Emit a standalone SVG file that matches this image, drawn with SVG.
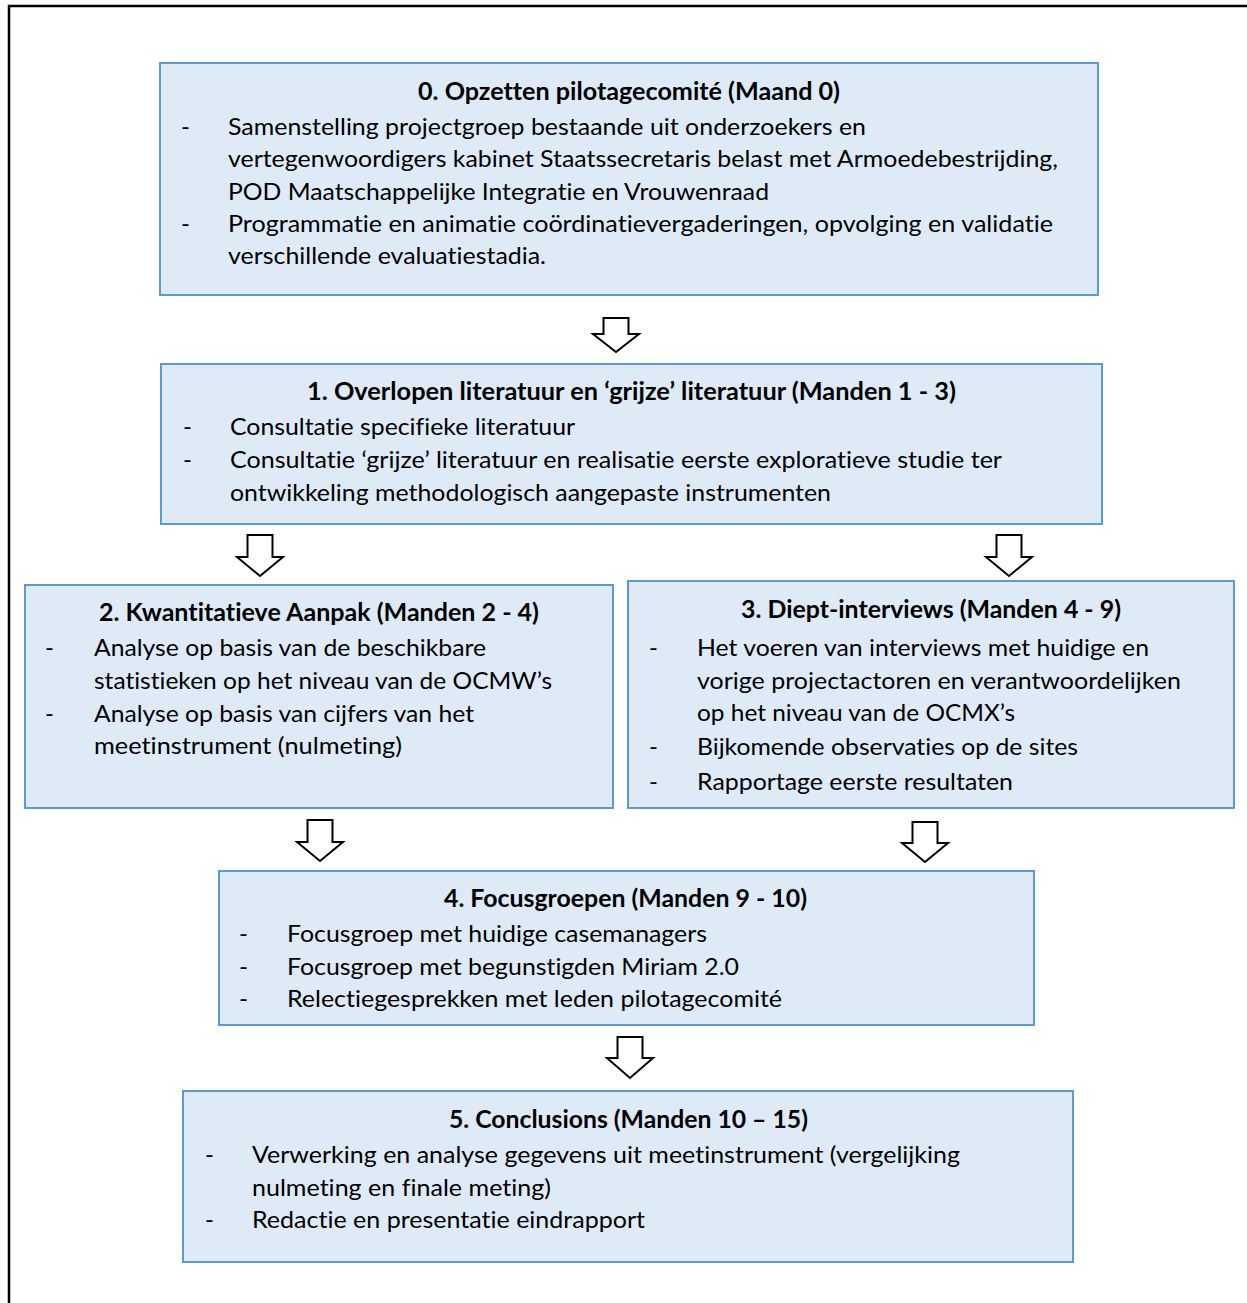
<svg xmlns="http://www.w3.org/2000/svg" width="1247" height="1303" viewBox="0 0 1247 1303">
<style>
.box{fill:#DEEBF7;stroke:#5B9BD5;stroke-width:2}
.arr{fill:#FFFFFF;stroke:#000000;stroke-width:2;stroke-linejoin:miter}
text{font-family:Lato,"Open Sans","Liberation Sans",sans-serif;font-size:24px;fill:#000000;font-variant-ligatures:none;font-feature-settings:"liga" 0,"dlig" 0}
.t{font-weight:bold}
</style>
<rect width="1247" height="1303" fill="#FFFFFF"/>
<g id="frame"><path d="M9,1303 V6 H1247" fill="none" stroke="#000" stroke-width="2.5"/></g>

<g id="node0">
<rect class="box" x="160" y="63" width="938" height="232"/>
<text class="t" x="418" y="100" textLength="422" lengthAdjust="spacingAndGlyphs">0. Opzetten pilotagecomité (Maand 0)</text>
<text x="181" y="135">-</text>
<text x="228" y="135" textLength="638" lengthAdjust="spacingAndGlyphs">Samenstelling projectgroep bestaande uit onderzoekers en</text>
<text x="228" y="167" textLength="830" lengthAdjust="spacingAndGlyphs">vertegenwoordigers kabinet Staatssecretaris belast met Armoedebestrijding,</text>
<text x="228" y="200" textLength="541" lengthAdjust="spacingAndGlyphs">POD Maatschappelijke Integratie en Vrouwenraad</text>
<text x="181" y="232">-</text>
<text x="228" y="232" textLength="825" lengthAdjust="spacingAndGlyphs">Programmatie en animatie coördinatievergaderingen, opvolging en validatie</text>
<text x="228" y="264" textLength="318" lengthAdjust="spacingAndGlyphs">verschillende evaluatiestadia.</text>
</g>

<g id="node1">
<rect class="box" x="161" y="364" width="941" height="160"/>
<text class="t" x="307" y="400" textLength="649" lengthAdjust="spacingAndGlyphs">1. Overlopen literatuur en ‘grijze’ literatuur (Manden 1 - 3)</text>
<text x="183" y="435">-</text>
<text x="230" y="435" textLength="345" lengthAdjust="spacingAndGlyphs">Consultatie specifieke literatuur</text>
<text x="183" y="468">-</text>
<text x="230" y="468" textLength="772" lengthAdjust="spacingAndGlyphs">Consultatie ‘grijze’ literatuur en realisatie eerste exploratieve studie ter</text>
<text x="230" y="501" textLength="601" lengthAdjust="spacingAndGlyphs">ontwikkeling methodologisch aangepaste instrumenten</text>
</g>

<g id="node2">
<rect class="box" x="25" y="585" width="588" height="223"/>
<text class="t" x="99" y="621" textLength="440" lengthAdjust="spacingAndGlyphs">2. Kwantitatieve Aanpak (Manden 2 - 4)</text>
<text x="45" y="656">-</text>
<text x="94" y="656" textLength="392" lengthAdjust="spacingAndGlyphs">Analyse op basis van de beschikbare</text>
<text x="94" y="689" textLength="458" lengthAdjust="spacingAndGlyphs">statistieken op het niveau van de OCMW’s</text>
<text x="45" y="722">-</text>
<text x="94" y="722" textLength="380" lengthAdjust="spacingAndGlyphs">Analyse op basis van cijfers van het</text>
<text x="94" y="754" textLength="308" lengthAdjust="spacingAndGlyphs">meetinstrument (nulmeting)</text>
</g>

<g id="node3">
<rect class="box" x="628" y="581" width="606" height="227"/>
<text class="t" x="741" y="618" textLength="380" lengthAdjust="spacingAndGlyphs">3. Diept-interviews (Manden 4 - 9)</text>
<text x="649" y="656">-</text>
<text x="697" y="656" textLength="452" lengthAdjust="spacingAndGlyphs">Het voeren van interviews met huidige en</text>
<text x="697" y="689" textLength="484" lengthAdjust="spacingAndGlyphs">vorige projectactoren en verantwoordelijken</text>
<text x="697" y="721" textLength="318" lengthAdjust="spacingAndGlyphs">op het niveau van de OCMX’s</text>
<text x="649" y="755">-</text>
<text x="697" y="755" textLength="381" lengthAdjust="spacingAndGlyphs">Bijkomende observaties op de sites</text>
<text x="649" y="790">-</text>
<text x="697" y="790" textLength="316" lengthAdjust="spacingAndGlyphs">Rapportage eerste resultaten</text>
</g>

<g id="node4">
<rect class="box" x="219" y="871" width="815" height="154"/>
<text class="t" x="444" y="907" textLength="363" lengthAdjust="spacingAndGlyphs">4. Focusgroepen (Manden 9 - 10)</text>
<text x="239" y="942">-</text>
<text x="287" y="942" textLength="420" lengthAdjust="spacingAndGlyphs">Focusgroep met huidige casemanagers</text>
<text x="239" y="975">-</text>
<text x="287" y="975" textLength="452" lengthAdjust="spacingAndGlyphs">Focusgroep met begunstigden Miriam 2.0</text>
<text x="239" y="1007">-</text>
<text x="287" y="1007" textLength="495" lengthAdjust="spacingAndGlyphs">Relectiegesprekken met leden pilotagecomité</text>
</g>

<g id="node5">
<rect class="box" x="183" y="1091" width="890" height="171"/>
<text class="t" x="449" y="1128" textLength="359" lengthAdjust="spacingAndGlyphs">5. Conclusions (Manden 10 – 15)</text>
<text x="205" y="1163">-</text>
<text x="252" y="1163" textLength="708" lengthAdjust="spacingAndGlyphs">Verwerking en analyse gegevens uit meetinstrument (vergelijking</text>
<text x="252" y="1196" textLength="299" lengthAdjust="spacingAndGlyphs">nulmeting en finale meting)</text>
<text x="205" y="1228">-</text>
<text x="252" y="1228" textLength="393" lengthAdjust="spacingAndGlyphs">Redactie en presentatie eindrapport</text>
</g>

<g id="connectors">
<path class="arr" d="M603.5,318 H628.5 V334 H639 L616,352 L593,334 H603.5 Z"/>
<path class="arr" d="M247.5,535 H272.5 V557 H283 L260,576 L237,557 H247.5 Z"/>
<path class="arr" d="M996.5,535 H1021.5 V557 H1032 L1009,576 L986,557 H996.5 Z"/>
<path class="arr" d="M307.5,820 H332.5 V842 H343 L320,861 L297,842 H307.5 Z"/>
<path class="arr" d="M912.5,822 H937.5 V843 H948 L925,862 L902,843 H912.5 Z"/>
<path class="arr" d="M617.5,1037 H642.5 V1058 H653 L630,1078 L607,1058 H617.5 Z"/>
</g>
</svg>
